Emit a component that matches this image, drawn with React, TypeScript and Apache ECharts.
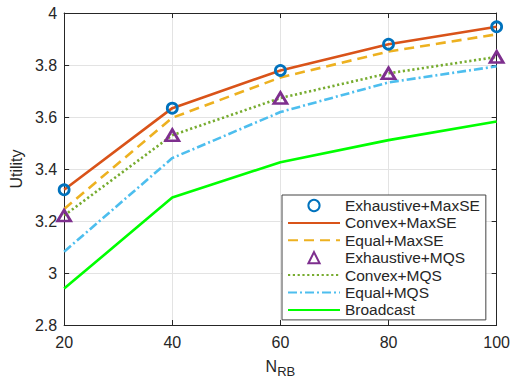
import React, { useEffect, useRef } from "react";
import * as echarts from "echarts";

const nrb = [20, 40, 60, 80, 100];
const exhaustiveMaxSE = [3.32, 3.634, 3.779, 3.88, 3.947];
const convexMaxSE = [3.32, 3.634, 3.779, 3.88, 3.947];
const equalMaxSE = [3.246, 3.597, 3.752, 3.852, 3.918];
const exhaustiveMQS = [3.221, 3.53, 3.673, 3.768, 3.831];
const convexMQS = [3.221, 3.53, 3.673, 3.768, 3.831];
const equalMQS = [3.082, 3.442, 3.619, 3.733, 3.795];
const broadcast = [2.94, 3.29, 3.426, 3.511, 3.583];

const seriesNames = [
  "Exhaustive+MaxSE",
  "Convex+MaxSE",
  "Equal+MaxSE",
  "Exhaustive+MQS",
  "Convex+MQS",
  "Equal+MQS",
  "Broadcast",
];
const markerSeries = ["Exhaustive+MaxSE", "Exhaustive+MQS"];

const pairs = (ys: number[]) => nrb.map((x, i) => [x, ys[i]]);

export default function App() {
  const ref = useRef<HTMLDivElement>(null);
  useEffect(() => {
    const chart = echarts.init(ref.current!, null, { renderer: "svg" });
    const txt = "#262626";
    const font = "Liberation Sans, Arial, Helvetica, sans-serif";
    const lw = 2.6;
    const axisCommon = {
      axisLine: { show: true, lineStyle: { color: txt, width: 1 } },
      axisTick: { show: true, inside: true, length: 5, lineStyle: { color: txt } },
    };
    chart.setOption({
      animation: false,
      backgroundColor: "#fff",
      textStyle: { fontFamily: font },
      grid: { left: 63, right: 14, top: 13, bottom: 53, containLabel: false },
      xAxis: [
        {
          type: "value",
          min: 20,
          max: 100,
          interval: 20,
          ...axisCommon,
          axisLabel: { color: txt, fontSize: 16, margin: 9, fontFamily: font },
          splitLine: { show: true, lineStyle: { color: "#e3e3e3", width: 1 } },
          name: "N{sub|RB}",
          nameLocation: "middle",
          nameGap: 30,
          nameTextStyle: {
            color: txt,
            fontSize: 16,
            fontFamily: font,
            rich: { sub: { fontSize: 13, color: txt, verticalAlign: "bottom", padding: [10, 0, 0, 0], fontFamily: font } },
          },
        },
        {
          type: "value",
          position: "top",
          min: 20,
          max: 100,
          interval: 20,
          ...axisCommon,
          axisLabel: { show: false },
          splitLine: { show: false },
        },
      ],
      yAxis: [
        {
          type: "value",
          min: 2.8,
          max: 4,
          interval: 0.2,
          ...axisCommon,
          axisLabel: { color: txt, fontSize: 16, margin: 7, fontFamily: font },
          splitLine: { show: true, lineStyle: { color: "#e3e3e3", width: 1 } },
          name: "Utility",
          nameLocation: "middle",
          nameGap: 39,
          nameTextStyle: { color: txt, fontSize: 16, fontFamily: font },
        },
        {
          type: "value",
          position: "right",
          min: 2.8,
          max: 4,
          interval: 0.2,
          ...axisCommon,
          axisLabel: { show: false },
          splitLine: { show: false },
        },
      ],
      legend: {
        orient: "vertical",
        left: 282,
        top: 195,
        itemWidth: 52,
        itemHeight: 14,
        itemGap: 1.4,
        padding: [2.5, 6, 2, 5],
        backgroundColor: "#fff",
        borderColor: "#444",
        borderWidth: 1,
        borderRadius: 0,
        textStyle: { color: txt, fontSize: 15.5, fontFamily: font },
        data: seriesNames.map((n) =>
          markerSeries.includes(n) ? { name: n } : { name: n, itemStyle: { opacity: 0 } }
        ),
      },
      series: [
        {
          name: "Convex+MaxSE",
          type: "line",
          data: pairs(convexMaxSE),
          symbol: "none",
          lineStyle: { color: "#D95319", width: lw },
          itemStyle: { color: "#D95319" },
          z: 3,
        },
        {
          name: "Equal+MaxSE",
          type: "line",
          data: pairs(equalMaxSE),
          symbol: "none",
          lineStyle: { color: "#EDB120", width: lw, type: [10, 6] },
          itemStyle: { color: "#EDB120" },
          z: 3,
        },
        {
          name: "Convex+MQS",
          type: "line",
          data: pairs(convexMQS),
          symbol: "none",
          lineStyle: { color: "#77AC30", width: lw, type: [2.2, 2.6] },
          itemStyle: { color: "#77AC30" },
          z: 3,
        },
        {
          name: "Equal+MQS",
          type: "line",
          data: pairs(equalMQS),
          symbol: "none",
          lineStyle: { color: "#4DBEEE", width: lw, type: [9, 3, 2, 3] },
          itemStyle: { color: "#4DBEEE" },
          z: 3,
        },
        {
          name: "Broadcast",
          type: "line",
          data: pairs(broadcast),
          symbol: "none",
          lineStyle: { color: "#00FF00", width: lw },
          itemStyle: { color: "#00FF00" },
          z: 3,
        },
        {
          name: "Exhaustive+MaxSE",
          type: "line",
          data: pairs(exhaustiveMaxSE),
          symbol: "circle",
          symbolSize: 10,
          showSymbol: true,
          lineStyle: { width: 0, opacity: 0 },
          itemStyle: { color: "rgba(255,255,255,0)", borderColor: "#0072BD", borderWidth: 2.8 },
          z: 4,
        },
        {
          name: "Exhaustive+MQS",
          type: "line",
          data: pairs(exhaustiveMQS),
          symbol: "triangle",
          symbolSize: [13, 11],
          showSymbol: true,
          lineStyle: { width: 0, opacity: 0 },
          itemStyle: { color: "rgba(255,255,255,0)", borderColor: "#7E2F8E", borderWidth: 2.8 },
          z: 4,
        },
      ],
    });
    return () => chart.dispose();
  }, []);
  return (
    <div
      ref={ref}
      style={{ position: "absolute", left: 0, top: 0, width: 513, height: 383 }}
    />
  );
}
